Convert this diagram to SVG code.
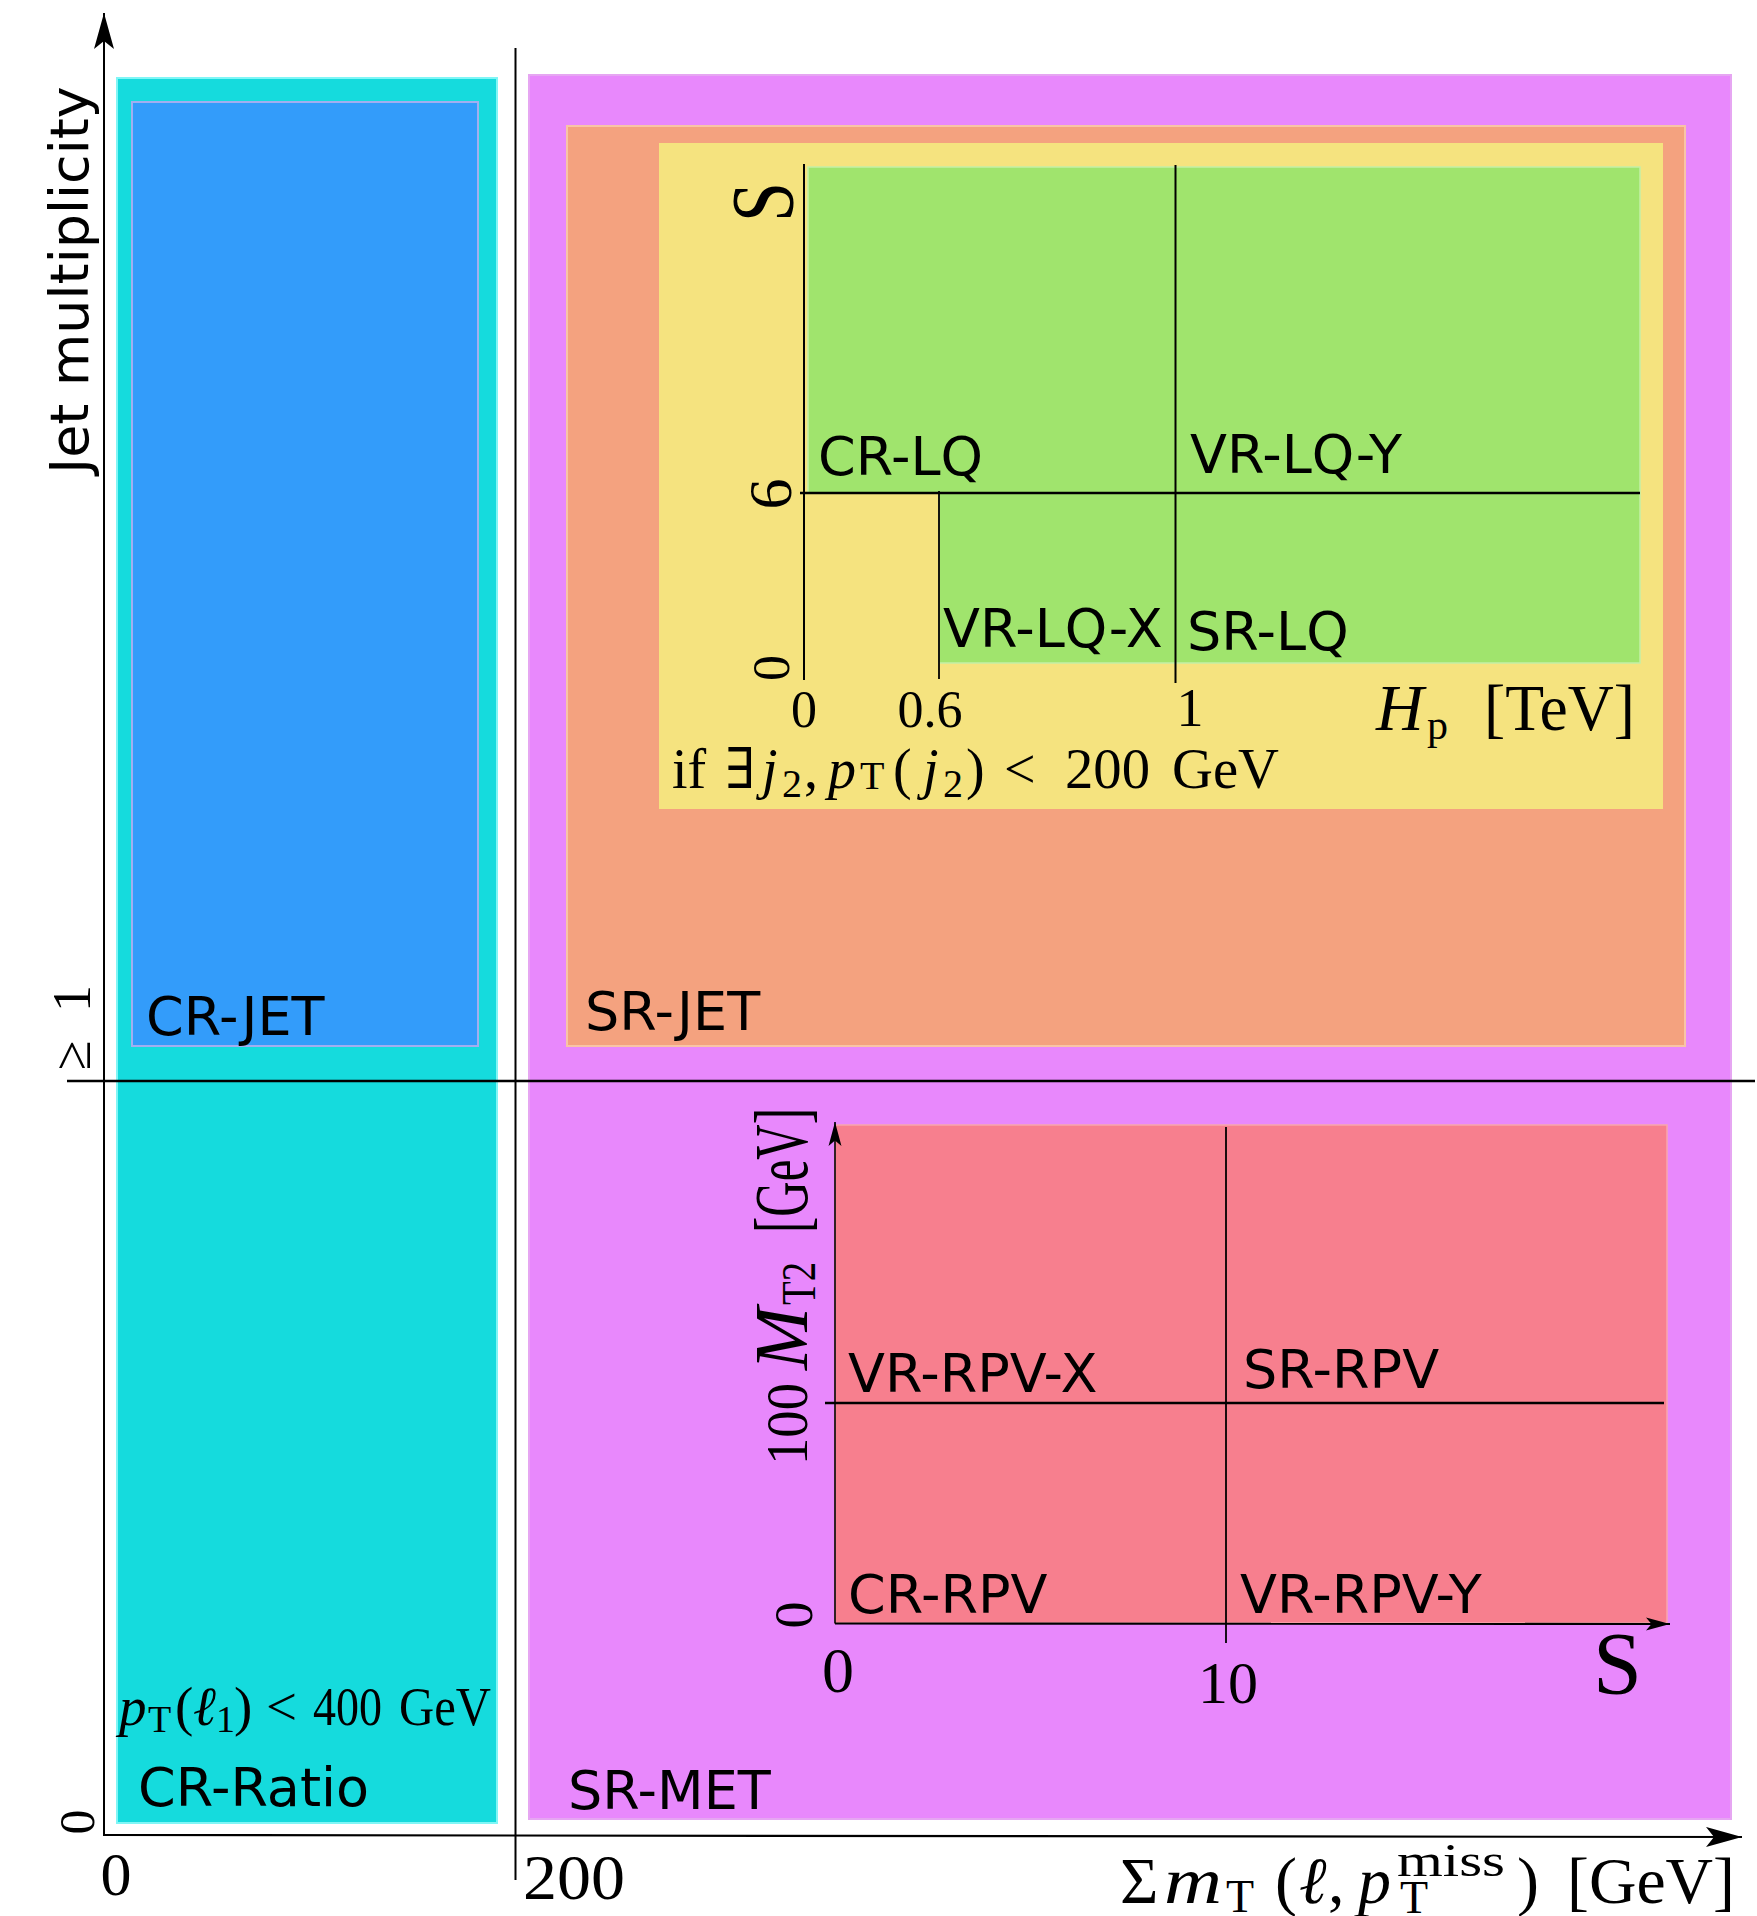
<svg xmlns="http://www.w3.org/2000/svg" width="1757" height="1916" viewBox="0 0 1757 1916">
<style>
.sans{font-family:"DejaVu Sans","Liberation Sans",sans-serif;font-size:54px;fill:#000}
.ser{font-family:"Liberation Serif","DejaVu Serif",serif;fill:#000}
.it{font-style:italic}
.ax{stroke:#000;fill:none}
</style>
<defs>
<marker id="ahBig" viewBox="0 0 36 20" refX="36" refY="10" markerWidth="36" markerHeight="20" markerUnits="userSpaceOnUse" orient="auto"><path d="M36,10 L0,0 L8,10 L0,20 Z" fill="#000"/></marker>
<marker id="ahSmall" viewBox="0 0 26 14" refX="26" refY="7" markerWidth="24" markerHeight="14" markerUnits="userSpaceOnUse" orient="auto"><path d="M26,7 L0,0 L6,7 L0,14 Z" fill="#000"/></marker>
</defs>
<rect width="1757" height="1916" fill="#fff"/>

<g id="cr-ratio">
<rect x="117" y="78" width="380" height="1745" fill="#15dbdd" stroke="#80f6f6" stroke-width="2"/>
<text class="sans" x="138" y="1806">CR-Ratio</text>
<g class="ser" font-size="55">
<text class="ser it" x="119" y="1725">p</text>
<text class="ser" x="148" y="1732" font-size="38">T</text>
<text class="ser" x="175" y="1725">(</text>
<text class="ser it" x="193" y="1725">ℓ</text>
<text class="ser" x="216" y="1732" font-size="38">1</text>
<text class="ser" x="234" y="1725">)</text>
<text class="ser" x="266" y="1725">&lt;</text>
<text class="ser" x="313" y="1725" textLength="69" lengthAdjust="spacingAndGlyphs">400</text>
<text class="ser" x="399" y="1725" textLength="92" lengthAdjust="spacingAndGlyphs">GeV</text>
</g>
</g>

<g id="cr-jet">
<rect x="132" y="102" width="346" height="944" fill="#339cfa" stroke="#a2aef0" stroke-width="2"/>
<text class="sans" x="146" y="1035">CR-JET</text>
</g>

<g id="sr-met">
<rect x="529" y="75" width="1202" height="1744" fill="#e888fc" stroke="#e6a6f2" stroke-width="2"/>
<text class="sans" x="568" y="1809">SR-MET</text>
</g>

<g id="sr-jet">
<rect x="567" y="126" width="1118" height="920" fill="#f4a27f" stroke="#f8c4a6" stroke-width="2"/>
<text class="sans" x="585" y="1030">SR-JET</text>
</g>

<g id="lq-box">
<rect x="659" y="143" width="1004" height="666" fill="#f5e37f"/>
<g font-size="56">
<text class="ser" x="672" y="788">if</text>
<text class="ser" x="725" y="788">∃</text>
<text class="ser it" x="762" y="788">j</text>
<text class="ser" x="782" y="797" font-size="40">2</text>
<text class="ser" x="804" y="788">,</text>
<text class="ser it" x="828" y="788">p</text>
<text class="ser" x="860" y="789" font-size="40">T</text>
<text class="ser" x="893" y="788">(</text>
<text class="ser it" x="923" y="788">j</text>
<text class="ser" x="943" y="797" font-size="40">2</text>
<text class="ser" x="966" y="788">)</text>
<text class="ser" x="1004" y="788">&lt;</text>
<text class="ser" x="1065" y="788" textLength="85" lengthAdjust="spacingAndGlyphs">200</text>
<text class="ser" x="1172" y="788" textLength="107" lengthAdjust="spacingAndGlyphs">GeV</text>
</g>
</g>

<g id="lq-green">
<path d="M808,167 H1640 V663 H939 V493 H808 Z" fill="#a0e46d" stroke="#c4f0a6" stroke-width="1.5"/>
</g>

<g id="cr-lq"><text class="sans" x="818" y="475">CR-LQ</text></g>
<g id="vr-lq-y"><text class="sans" x="1190" y="473">VR-LQ-Y</text></g>
<g id="vr-lq-x"><text class="sans" x="943" y="647">VR-LQ-X</text></g>
<g id="sr-lq"><text class="sans" x="1187" y="650">SR-LQ</text></g>

<g id="rpv-box">
<rect x="835" y="1125" width="832" height="498" fill="#f77f8e" stroke="#f8a6ac" stroke-width="1.5"/>
</g>
<g id="vr-rpv-x"><text class="sans" x="848" y="1392">VR-RPV-X</text></g>
<g id="sr-rpv"><text class="sans" x="1243" y="1388">SR-RPV</text></g>
<g id="cr-rpv"><text class="sans" x="848" y="1613">CR-RPV</text></g>
<g id="vr-rpv-y"><text class="sans" x="1240" y="1613">VR-RPV-Y</text></g>

<g id="connectors">
<line class="ax" x1="104" y1="1835" x2="104" y2="13" stroke-width="2" marker-end="url(#ahBig)"/>
<line class="ax" x1="103" y1="1835" x2="1742" y2="1837" stroke-width="2.2" marker-end="url(#ahBig)"/>
<line class="ax" x1="515.5" y1="48" x2="515.5" y2="1880" stroke-width="2"/>
<line class="ax" x1="67" y1="1081" x2="1755" y2="1081" stroke-width="2.6"/>
<line class="ax" x1="804" y1="164" x2="804" y2="680" stroke-width="2"/>
<line class="ax" x1="800" y1="493" x2="1640" y2="493" stroke-width="2.6"/>
<line class="ax" x1="939" y1="491" x2="939" y2="679" stroke-width="1.8"/>
<line class="ax" x1="1175.5" y1="165" x2="1175.5" y2="683" stroke-width="2"/>
<line class="ax" x1="835" y1="1623.5" x2="835" y2="1122" stroke-width="1.6" marker-end="url(#ahSmall)"/>
<line class="ax" x1="835" y1="1623.5" x2="1670" y2="1624" stroke-width="2.2" marker-end="url(#ahSmall)"/>
<line class="ax" x1="1226" y1="1127" x2="1226" y2="1643" stroke-width="1.8"/>
<line class="ax" x1="825" y1="1403" x2="1664" y2="1403" stroke-width="2.4"/>
</g>

<g id="axis-labels">
<text class="sans" text-anchor="middle" transform="translate(88,280) rotate(-90)">Jet multiplicity</text>
<text class="ser" font-size="54" transform="translate(90,1070) rotate(-90)"><tspan x="0">≥</tspan><tspan x="58">1</tspan></text>
<text class="ser" font-size="50" text-anchor="middle" transform="translate(94,1822) rotate(-90)">0</text>
<text class="ser" font-size="62" text-anchor="middle" x="116" y="1895">0</text>
<text class="ser" font-size="64" x="523" y="1899" textLength="102" lengthAdjust="spacingAndGlyphs">200</text>

<g font-size="66">
<text class="ser" x="1120" y="1903">Σ</text>
<text class="ser it" x="1164" y="1903" textLength="58" lengthAdjust="spacingAndGlyphs">m</text>
<text class="ser" x="1226" y="1912" font-size="46">T</text>
<text class="ser" x="1275" y="1903">(</text>
<text class="ser it" x="1299" y="1903">ℓ</text>
<text class="ser" x="1328" y="1903">,</text>
<text class="ser it" x="1358" y="1903">p</text>
<text class="ser" x="1397" y="1876" font-size="46" textLength="108" lengthAdjust="spacingAndGlyphs">miss</text>
<text class="ser" x="1400" y="1913" font-size="46">T</text>
<text class="ser" x="1517" y="1903">)</text>
<text class="ser" x="1567" y="1903" textLength="168" lengthAdjust="spacingAndGlyphs">[GeV]</text>
</g>

<text class="ser" font-size="88" transform="translate(792,222) rotate(-90)" textLength="40" lengthAdjust="spacingAndGlyphs">S</text>
<text class="ser" font-size="62" text-anchor="middle" transform="translate(791,494) rotate(-90)">6</text>
<text class="ser" font-size="52" text-anchor="middle" transform="translate(789,668) rotate(-90)">0</text>
<text class="ser" font-size="52" text-anchor="middle" x="804" y="727">0</text>
<text class="ser" font-size="52" text-anchor="middle" x="930" y="727">0.6</text>
<text class="ser" font-size="54" text-anchor="middle" x="1190" y="726">1</text>
<text class="ser it" font-size="66" x="1376" y="730">H</text>
<text class="ser" font-size="42" x="1427" y="739">p</text>
<text class="ser" font-size="66" x="1484" y="730" textLength="151" lengthAdjust="spacingAndGlyphs">[TeV]</text>

<g transform="translate(807,1465) rotate(-90)">
<text class="ser" font-size="60" x="0" y="0" textLength="82" lengthAdjust="spacingAndGlyphs">100</text>
<text class="ser it" font-size="76" x="95" y="0" textLength="63" lengthAdjust="spacingAndGlyphs">M</text>
<text class="ser" font-size="48" x="160" y="8" textLength="43" lengthAdjust="spacingAndGlyphs">T2</text>
<text class="ser" font-size="76" x="232" y="0" textLength="125" lengthAdjust="spacingAndGlyphs">[GeV]</text>
</g>
<text class="ser" font-size="54" text-anchor="middle" transform="translate(812,1615) rotate(-90)">0</text>
<text class="ser" font-size="64" text-anchor="middle" x="838" y="1692">0</text>
<text class="ser" font-size="60" text-anchor="middle" x="1228" y="1703">10</text>
<text class="ser" font-size="88" x="1593" y="1693">S</text>
</g>
</svg>
